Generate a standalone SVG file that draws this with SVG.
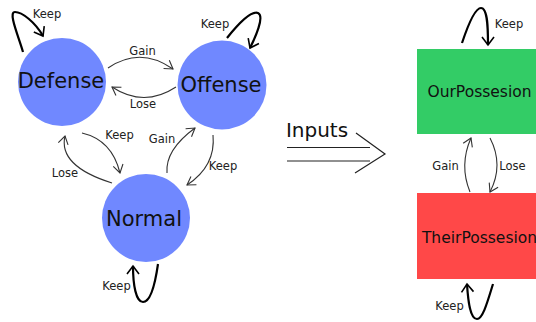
<svg xmlns="http://www.w3.org/2000/svg" width="536" height="322" viewBox="0 0 536 322">
  <style>
    text { font-family: "DejaVu Sans", "Liberation Sans", sans-serif; fill: #111; text-anchor: middle; }
    .state { fill: #7088ff; }
    .big { font-size: 21px; }
    .box { font-size: 15.5px; }
    .lbl { font-size: 11.5px; fill: #222; }
    .edge { fill: none; stroke: #333; stroke-width: 1.1; marker-end: url(#thin); }
    .loop { fill: none; stroke: #000; stroke-width: 2.2; marker-end: url(#thick); }
  </style>
  <defs>
    <marker id="thin" markerUnits="userSpaceOnUse" markerWidth="20" markerHeight="20" viewBox="-10 -10 20 20" refX="0" refY="0" orient="auto">
      <path d="M-8,-5 L0,0 L-8,5" fill="none" stroke="#333" stroke-width="1.1"/>
    </marker>
    <marker id="thick" markerUnits="userSpaceOnUse" markerWidth="20" markerHeight="20" viewBox="-10 -10 20 20" refX="0" refY="0" orient="auto">
      <path d="M-8,-6 L0,0 L-8,6" fill="none" stroke="#000" stroke-width="1.6"/>
    </marker>
  </defs>

  <g id="defense">
    <circle class="state" cx="62" cy="82" r="44"/>
    <text class="big" x="61" y="88">Defense</text>
  </g>
  <g id="offense">
    <circle class="state" cx="222" cy="85" r="44.5"/>
    <text class="big" x="221" y="92">Offense</text>
  </g>
  <g id="normal">
    <circle class="state" cx="146" cy="218" r="44"/>
    <text class="big" x="144" y="226">Normal</text>
  </g>
  <g id="our-possesion">
    <rect x="417" y="49" width="125" height="85" fill="#33cc66"/>
    <text class="box" x="479.5" y="97">OurPossesion</text>
  </g>
  <g id="their-possesion">
    <rect x="417" y="193" width="125" height="86" fill="#ff4848"/>
    <text class="box" x="479.5" y="243">TheirPossesion</text>
  </g>

  <g id="connectors">
    <!-- self loops -->
    <path class="loop" d="M23,52 C18,35 8,12 15,12 C22,12 35,22 43,36"/>
    <path class="loop" d="M227,38 C235,28 250,10 258,13 C265,16 255,38 250,48"/>
    <path class="loop" d="M158,264 C155,285 150,302 143,302 C136,302 133,285 133,266"/>
    <path class="loop" d="M462,43 C468,25 475,8 481,8 C488,8 488,30 488,45"/>
    <path class="loop" d="M493,284 C488,300 483,319 477,319 C470,319 468,300 467,284"/>

    <!-- transitions between states -->
    <path class="edge" d="M108,68 Q140,46 173,69"/>
    <path class="edge" d="M176,87 Q144,108 112,87"/>
    <path class="edge" d="M82,133 Q112,140 120,173"/>
    <path class="edge" d="M112,183 Q58,166 65,136"/>
    <path class="edge" d="M167,173 Q165,150 195,128"/>
    <path class="edge" d="M213,135 Q216,166 187,185"/>
    <path class="edge" d="M470,192 Q459,165 471,138"/>
    <path class="edge" d="M490,138 Q504,165 490,192"/>

    <!-- inputs double arrow -->
    <g fill="none" stroke="#222" stroke-width="1.2">
      <line x1="287" y1="147.5" x2="370" y2="147.5"/>
      <line x1="287" y1="161" x2="370" y2="161"/>
      <polyline points="356,133 385,154 355,173"/>
    </g>

    <!-- labels -->
    <text class="lbl" x="47" y="18">Keep</text>
    <text class="lbl" x="215" y="28">Keep</text>
    <text class="lbl" x="142.5" y="55">Gain</text>
    <text class="lbl" x="143" y="108">Lose</text>
    <text class="lbl" x="119.5" y="139">Keep</text>
    <text class="lbl" x="162" y="143">Gain</text>
    <text class="lbl" x="65" y="177">Lose</text>
    <text class="lbl" x="223" y="170">Keep</text>
    <text class="lbl" x="116.5" y="290">Keep</text>
    <text class="lbl" x="509" y="28">Keep</text>
    <text class="lbl" x="445.5" y="170">Gain</text>
    <text class="lbl" x="512.5" y="170">Lose</text>
    <text class="lbl" x="449.5" y="310">Keep</text>
    <text x="317" y="137" font-size="20">Inputs</text>
  </g>
</svg>
